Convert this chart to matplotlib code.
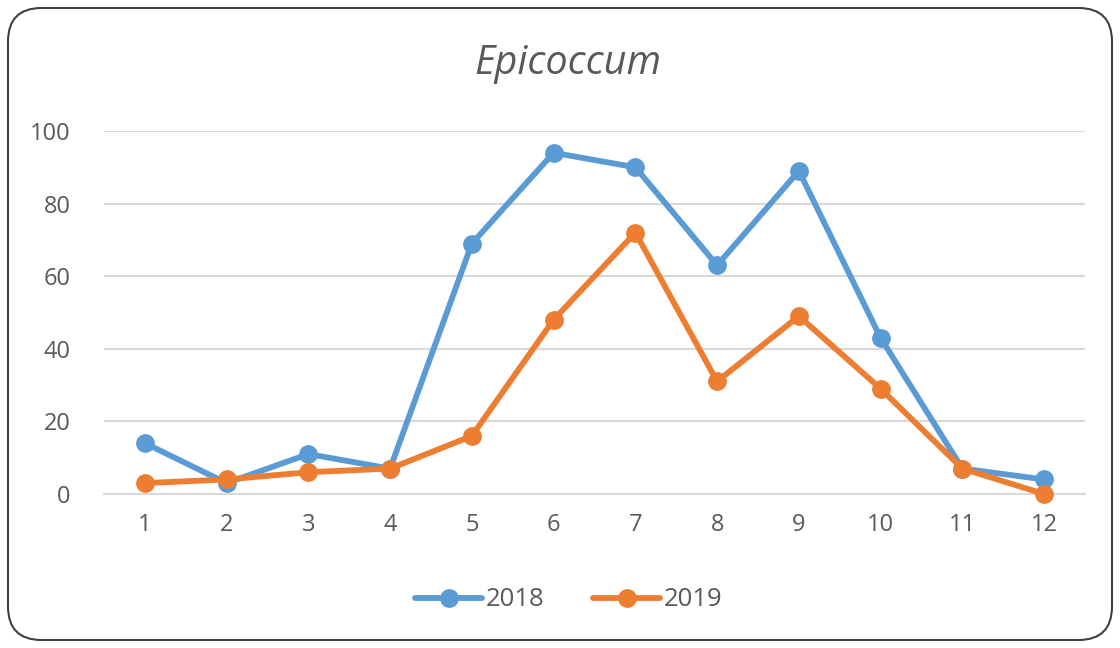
import matplotlib
matplotlib.use('Agg')

import matplotlib.pyplot as plt
from matplotlib.patches import FancyBboxPatch


months = [1, 2, 3, 4, 5, 6, 7, 8, 9, 10, 11, 12]
y2018 = [14, 3, 11, 7, 69, 94, 90, 63, 89, 43, 7, 4]
y2019 = [3, 4, 6, 7, 16, 48, 72, 31, 49, 29, 7, 0]
series_names = ['2018', '2019']
y_ticks = [0, 20, 40, 60, 80, 100]

BLUE = '#5B9BD5'
ORANGE = '#ED7D31'
TEXT = '#595959'
GRID = '#D9D9D9'

plt.rcParams['font.family'] = ['Open Sans', 'DejaVu Sans']

W, H = 1120, 648
fig = plt.figure(figsize=(W / 100, H / 100), dpi=100)

# rounded chart border, kept behind the axes
frame = FancyBboxPatch((8 / W, 8 / H), 1104 / W, 632 / H,
                       boxstyle='round,pad=0,rounding_size=0.03',
                       transform=fig.transFigure, fc='white', ec='#404040',
                       lw=1.5, mutation_aspect=W / H, zorder=-10)
fig.patches.append(frame)

ax = fig.add_axes([104 / W, 1 - 494 / H, (1085 - 104) / W, (494 - 131) / H])
ax.set_facecolor('none')

for vals, name, col in [(y2018, series_names[0], BLUE), (y2019, series_names[1], ORANGE)]:
    ax.plot(months, vals, color=col, lw=4.2, marker='o', ms=12.5,
            label=name, clip_on=False, zorder=3, solid_capstyle='round')

ax.set_xlim(0.5, 12.5)
ax.set_ylim(0, 100)
ax.set_xticks(months)
ax.set_yticks(y_ticks)
ax.tick_params(axis='both', length=0, labelsize=17, colors=TEXT)
ax.tick_params(axis='x', pad=14)
ax.tick_params(axis='y', pad=24)
ax.grid(axis='y', color=GRID, lw=1.5)
ax.set_axisbelow(True)
for s in ['top', 'right', 'left']:
    ax.spines[s].set_visible(False)
ax.spines['bottom'].set_color(GRID)
ax.spines['bottom'].set_linewidth(1.5)

fig.text(0.507, 1 - 64 / H, 'Epicoccum', ha='center', va='center',
         fontsize=28.5, style='italic', color=TEXT)

fig.legend(loc='center', bbox_to_anchor=(0.508, 1 - 600 / H), ncol=2,
           frameon=False, fontsize=18.5, labelcolor=TEXT, handlelength=2.6,
           columnspacing=1.9, handletextpad=0.15)

fig.savefig('out.png', dpi=100)
